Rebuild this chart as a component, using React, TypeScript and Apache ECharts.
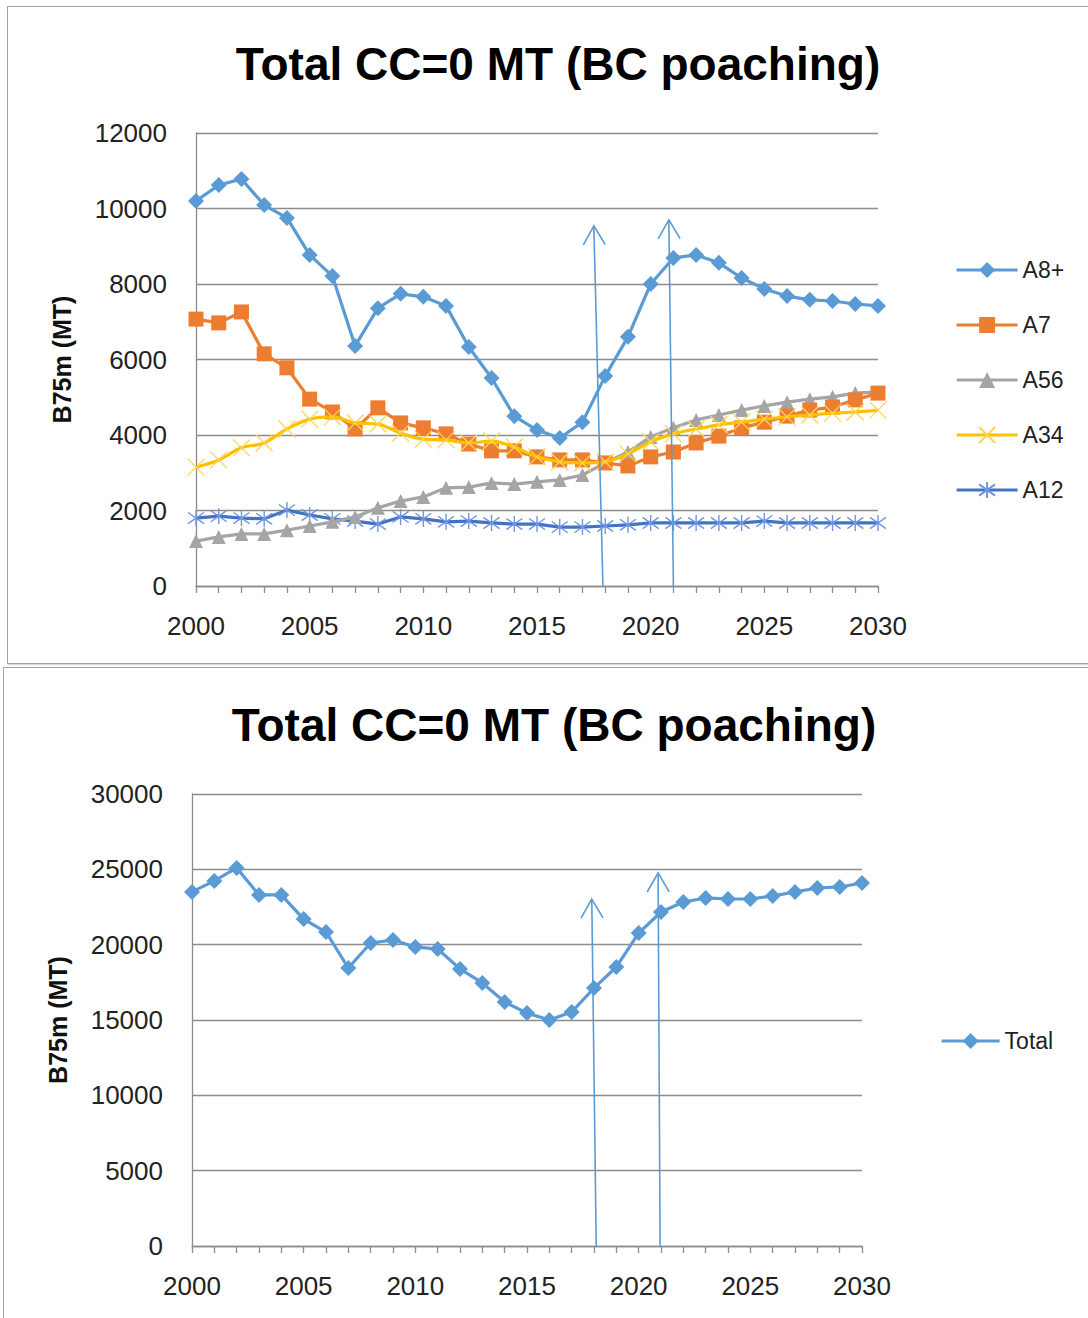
import React, { useEffect, useRef } from "react";
import * as echarts from "echarts";

// ---- data ----------------------------------------------------------------
const years = [
  2000, 2001, 2002, 2003, 2004, 2005, 2006, 2007, 2008, 2009, 2010,
  2011, 2012, 2013, 2014, 2015, 2016, 2017, 2018, 2019, 2020,
  2021, 2022, 2023, 2024, 2025, 2026, 2027, 2028, 2029, 2030,
];

const a8plus = [
  10200, 10620, 10780, 10090, 9750, 8770, 8210, 6360, 7360, 7740, 7660,
  7420, 6330, 5510, 4500, 4130, 3920, 4340, 5560, 6600, 8000,
  8690, 8770, 8560, 8160, 7870, 7680, 7580, 7550, 7470, 7420,
];
const a7 = [
  7070, 6970, 7260, 6150, 5780, 4950, 4610, 4160, 4720, 4320, 4190,
  4030, 3760, 3580, 3580, 3420, 3340, 3340, 3260, 3180, 3420,
  3550, 3790, 3970, 4190, 4340, 4500, 4660, 4740, 4930, 5110,
];
const a56 = [
  1190, 1300, 1380, 1380, 1480, 1590, 1700, 1830, 2070, 2250, 2360,
  2600, 2620, 2730, 2700, 2760, 2810, 2940, 3260, 3550, 3950,
  4190, 4400, 4530, 4660, 4770, 4870, 4950, 5010, 5110, 5140,
];
const a34 = [
  3150, 3340, 3660, 3790, 4160, 4420, 4480, 4320, 4290, 4050, 3890,
  3870, 3790, 3840, 3680, 3420, 3290, 3260, 3290, 3500, 3820,
  4030, 4160, 4270, 4340, 4420, 4480, 4530, 4580, 4610, 4660,
];
const a12 = [
  1800, 1850, 1800, 1780, 2010, 1880, 1780, 1720, 1640, 1830, 1780,
  1700, 1720, 1670, 1640, 1640, 1560, 1560, 1590, 1620, 1670,
  1670, 1670, 1670, 1670, 1720, 1670, 1670, 1670, 1670, 1670,
];
const total = [
  23500, 24230, 25090, 23300, 23300, 21700, 20840, 18450, 20110, 20310, 19850,
  19710, 18390, 17460, 16190, 15460, 15000, 15530, 17120, 18520, 20770,
  22170, 22830, 23100, 23030, 23030, 23230, 23500, 23760, 23830, 24090,
];

// annotation arrows: [fromYear, fromValue, toYear, toValue]
const agesArrows = [
  [2017.9, 0, 2017.5, 9540],
  [2021.0, 0, 2020.8, 9700],
];
const totalArrows = [
  [2018.1, 0, 2017.9, 23030],
  [2020.96, 0, 2020.87, 24760],
];

const TITLE = "Total CC=0 MT (BC poaching)";
const Y_NAME = "B75m (MT)";

// ---- styling helpers -----------------------------------------------------
const FONT = "'Liberation Sans', Arial, sans-serif";
const GRID_GRAY = "#8c8c8c";
const TEXT = "#222";
const ARROW_COLOR = "#5b9bd5";

const X_SYMBOL = "path://M0,0L10,10M10,0L0,10";
const STAR_SYMBOL = "path://M1.5,1.5L8.5,8.5M8.5,1.5L1.5,8.5M5,0L5,10";

const pairs = (vals: number[]) => vals.map((v, i) => [years[i], v]);

function renderArrow(_params: any, api: any) {
  const p0 = api.coord([api.value(0), api.value(1)]);
  const p1 = api.coord([api.value(2), api.value(3)]);
  const dx = p1[0] - p0[0];
  const dy = p1[1] - p0[1];
  const len = Math.hypot(dx, dy) || 1;
  const ux = dx / len;
  const uy = dy / len;
  const headLen = 19;
  const headHalf = 11;
  const bx = p1[0] - ux * headLen;
  const by = p1[1] - uy * headLen;
  const nx = -uy;
  const ny = ux;
  const style = { stroke: ARROW_COLOR, lineWidth: 1.6, fill: "none" };
  return {
    type: "group",
    children: [
      { type: "line", shape: { x1: p0[0], y1: p0[1], x2: p1[0], y2: p1[1] }, style },
      {
        type: "polyline",
        shape: {
          points: [
            [bx + nx * headHalf, by + ny * headHalf],
            [p1[0], p1[1]],
            [bx - nx * headHalf, by - ny * headHalf],
          ],
        },
        style,
      },
    ],
  };
}

function arrowSeries(data: number[][]) {
  return {
    type: "custom",
    name: "arrows",
    renderItem: renderArrow,
    data,
    encode: { x: [0, 2], y: [1, 3] },
    z: 10,
    silent: true,
  };
}

function baseAxes(yMax: number, yStep: number) {
  return {
    xAxis: {
      type: "value",
      min: 2000,
      max: 2030,
      interval: 5,
      axisLine: { show: true, lineStyle: { color: GRID_GRAY, width: 1.3 } },
      axisTick: { show: true, length: 7, lineStyle: { color: GRID_GRAY, width: 1.3 } },
      minorTick: { show: true, splitNumber: 5, length: 7, lineStyle: { color: GRID_GRAY, width: 1.3 } },
      splitLine: { show: false },
      axisLabel: {
        margin: 27,
        fontSize: 26,
        fontFamily: FONT,
        color: TEXT,
        formatter: (v: number) => String(v),
      },
    },
    yAxis: {
      type: "value",
      min: 0,
      max: yMax,
      interval: yStep,
      name: Y_NAME,
      nameLocation: "middle",
      nameRotate: 90,
      nameGap: 122,
      nameTextStyle: { fontSize: 25, fontWeight: "bold", fontFamily: FONT, color: "#111" },
      axisLine: { show: true, lineStyle: { color: GRID_GRAY, width: 1.3 } },
      axisTick: { show: false },
      splitLine: { show: true, lineStyle: { color: GRID_GRAY, width: 1.3 } },
      axisLabel: {
        margin: 29,
        fontSize: 26,
        fontFamily: FONT,
        color: TEXT,
        formatter: (v: number) => String(v),
      },
    },
  };
}

function lineSeries(name: string, values: number[], opts: any) {
  return {
    type: "line",
    name,
    data: pairs(values),
    lineStyle: { width: 3.2, color: opts.color },
    itemStyle: opts.itemStyle || { color: opts.color },
    symbol: opts.symbol,
    symbolSize: opts.size,
    showAllSymbol: true,
    smooth: opts.smooth || false,
    z: opts.z || 2,
  };
}

const legendText = { fontSize: 23, fontFamily: FONT, color: TEXT, lineHeight: 24 };

const agesOption = {
  animation: false,
  backgroundColor: "transparent",
  title: {
    text: TITLE,
    left: 553,
    top: 36,
    textAlign: "center",
    textStyle: { fontSize: 46, fontWeight: "bold", fontFamily: FONT, color: "#000" },
  },
  grid: { left: 196, top: 133, width: 682, height: 453 },
  legend: {
    orient: "vertical",
    left: 955,
    top: 258,
    padding: 0,
    itemWidth: 61,
    itemHeight: 20,
    itemGap: 31,
    lineStyle: { width: 3.2 },
    textStyle: legendText,
    data: ["A8+", "A7", "A56", "A34", "A12"],
  },
  ...baseAxes(12000, 2000),
  series: [
    lineSeries("A12", a12, {
      color: "#4472c4",
      symbol: STAR_SYMBOL,
      size: 16,
      itemStyle: { color: "#4472c4", borderColor: "#7097e0", borderWidth: 1.4 },
      z: 2,
    }),
    lineSeries("A56", a56, { color: "#a5a5a5", symbol: "triangle", size: 14, z: 3 }),
    lineSeries("A7", a7, { color: "#ed7d31", symbol: "rect", size: 15, z: 4 }),
    lineSeries("A34", a34, {
      color: "#ffc000",
      symbol: X_SYMBOL,
      size: 17,
      smooth: 0.35,
      itemStyle: { color: "#ffc000", borderColor: "#ffd44d", borderWidth: 1.3 },
      z: 5,
    }),
    lineSeries("A8+", a8plus, { color: "#5b9bd5", symbol: "diamond", size: 16, z: 6 }),
    arrowSeries(agesArrows),
  ],
};

const totalOption = {
  animation: false,
  backgroundColor: "transparent",
  title: {
    text: TITLE,
    left: 549,
    top: 32,
    textAlign: "center",
    textStyle: { fontSize: 46, fontWeight: "bold", fontFamily: FONT, color: "#000" },
  },
  grid: { left: 192, top: 129, width: 670, height: 452 },
  legend: {
    orient: "vertical",
    left: 940,
    top: 364,
    padding: 0,
    itemWidth: 58,
    itemHeight: 20,
    lineStyle: { width: 3.2 },
    textStyle: legendText,
    data: ["Total"],
  },
  ...baseAxes(30000, 5000),
  series: [
    lineSeries("Total", total, { color: "#5b9bd5", symbol: "diamond", size: 16, z: 6 }),
    arrowSeries(totalArrows),
  ],
};

// ---- components ----------------------------------------------------------
function Chart({ option, style }: { option: any; style: React.CSSProperties }) {
  const ref = useRef<HTMLDivElement>(null);
  useEffect(() => {
    if (!ref.current) return;
    const chart = echarts.init(ref.current, undefined, { renderer: "svg" });
    chart.setOption(option);
    return () => chart.dispose();
  }, [option]);
  return <div ref={ref} style={{ position: "absolute", ...style }} />;
}

const panelBorder: React.CSSProperties = {
  position: "absolute",
  border: "1.5px solid #a3a3a3",
  boxShadow: "1px 1px 1px rgba(0,0,0,0.15)",
  background: "#fff",
  boxSizing: "border-box",
};

export default function App() {
  return (
    <div
      style={{
        position: "fixed",
        left: 0,
        top: 0,
        width: 1088,
        height: 1318,
        overflow: "hidden",
        background: "#fff",
      }}
    >
      <div style={{ ...panelBorder, left: 7, top: 6, width: 1100, height: 658 }} />
      <div style={{ ...panelBorder, left: 3, top: 667, width: 1100, height: 700 }} />
      <Chart option={agesOption} style={{ left: 0, top: 0, width: 1088, height: 665 }} />
      <Chart option={totalOption} style={{ left: 0, top: 665, width: 1088, height: 653 }} />
    </div>
  );
}
